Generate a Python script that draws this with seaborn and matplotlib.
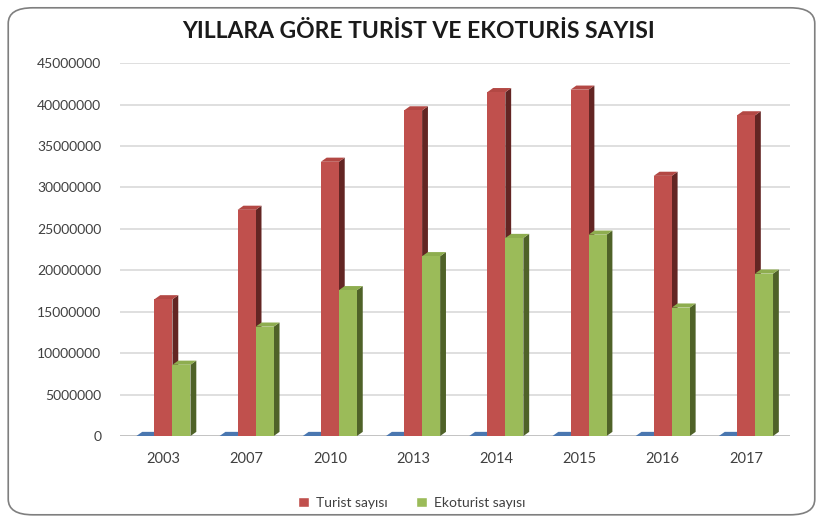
import pandas as pd
import seaborn as sns
import matplotlib.pyplot as plt
from matplotlib.patches import Polygon, FancyBboxPatch, Patch

# values
years = ['2003', '2007', '2010', '2013', '2014', '2015', '2016', '2017']
turist = [16500000, 27300000, 33100000, 39300000, 41500000, 41800000, 31400000, 38700000]
ekoturist = [8600000, 13200000, 17600000, 21700000, 23900000, 24300000, 15500000, 19600000]
yil = [2003, 2007, 2010, 2013, 2014, 2015, 2016, 2017]  # third series, looks flat at 0

series = ['Yıl', 'Turist sayısı', 'Ekoturist sayısı']
face = {'Yıl': '#4F81BD', 'Turist sayısı': '#C0504D', 'Ekoturist sayısı': '#9BBB59'}
side = {'#4F81BD': '#2C4D75', '#C0504D': '#632523', '#9BBB59': '#4F6228'}
top = {'#4F81BD': '#4A77B0', '#C0504D': '#B34844', '#9BBB59': '#8EAD4F'}

df = pd.DataFrame({
    'yil': years * 3,
    'seri': ['Yıl'] * 8 + ['Turist sayısı'] * 8 + ['Ekoturist sayısı'] * 8,
    'deger': yil + turist + ekoturist,
})

sns.set_style('white')
plt.rcParams['font.family'] = ['Lato', 'DejaVu Sans']

fig = plt.figure(figsize=(8.23, 5.2), dpi=100)
ax = fig.add_axes([0.146, 0.1615, 0.814, 0.717])

sns.barplot(data=df, x='yil', y='deger', hue='seri', hue_order=series,
            palette=face, width=0.65, saturation=1, legend=False, ax=ax,
            linewidth=0, zorder=3)

ax.set_ylim(0, 45000000)
ax.set_xlim(-0.52, 7.53)
ax.set_yticks(range(0, 45000001, 5000000))
ax.set_yticklabels([str(v) for v in range(0, 45000001, 5000000)])
ax.yaxis.grid(True, color='#D9D9D9', linewidth=1.2, zorder=0)
ax.set_axisbelow(True)
for s in ax.spines.values():
    s.set_visible(False)
ax.axhline(0, color='#BFBFBF', linewidth=1.2, zorder=1)
ax.set_xlabel('')
ax.set_ylabel('')
ax.tick_params(axis='y', labelsize=10, colors='#404040', pad=10)
ax.tick_params(axis='x', labelsize=10.5, colors='#404040', pad=8)

# fake 3d: side and top faces from each bar's own geometry
dx, dy = 0.07, 500000
bars = sorted(ax.patches, key=lambda p: p.get_x())
for i, b in enumerate(bars):
    x0, w, h = b.get_x(), b.get_width(), b.get_height()
    col = '#%02X%02X%02X' % tuple(int(round(v * 255)) for v in b.get_facecolor()[:3])
    z = 3 + i * 0.01
    b.set_zorder(z + 0.002)
    ax.add_patch(Polygon([(x0 + w, 0), (x0 + w + dx, dy), (x0 + w + dx, h + dy), (x0 + w, h)],
                         closed=True, facecolor=side.get(col, '#444444'), edgecolor='none', zorder=z))
    ax.add_patch(Polygon([(x0, h), (x0 + dx, h + dy), (x0 + w + dx, h + dy), (x0 + w, h)],
                         closed=True, facecolor=top.get(col, col), edgecolor='none', zorder=z + 0.001))

fig.text(0.508, 0.94, 'YILLARA GÖRE TURİST VE EKOTURİS SAYISI', ha='center', va='center',
         fontsize=16.5, fontweight='bold', color='#1A1A1A')

handles = [Patch(facecolor=face['Turist sayısı']), Patch(facecolor=face['Ekoturist sayısı'])]
fig.legend(handles, ['Turist sayısı', 'Ekoturist sayısı'], loc='center', bbox_to_anchor=(0.5, 0.033),
           ncol=2, frameon=False, fontsize=10, handlelength=0.8, handleheight=0.8,
           columnspacing=2.0, handletextpad=0.5, labelcolor='#404040')

fig.patches.append(FancyBboxPatch((0.01, 0.01), 0.98, 0.975, boxstyle='round,pad=0,rounding_size=0.03',
                                  transform=fig.transFigure, facecolor='none', edgecolor='#7F7F7F',
                                  linewidth=1.2, zorder=0))

fig.savefig('out.png', dpi=100)
